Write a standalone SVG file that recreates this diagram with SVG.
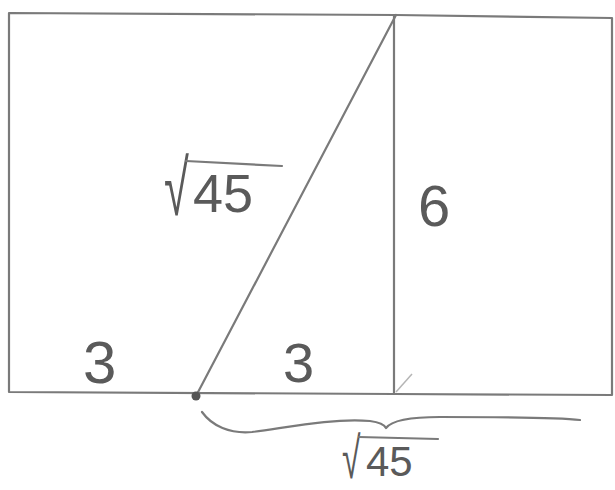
<svg xmlns="http://www.w3.org/2000/svg" width="615" height="490" viewBox="0 0 615 490">
<style>
.ln{stroke:#7a7a7a;stroke-width:2.2;fill:none;stroke-linecap:round;stroke-linejoin:round}
.lbl{font-family:"Liberation Sans",Arial,sans-serif;fill:#5a5a5a}
</style>
<rect width="615" height="490" fill="#ffffff"/>
<g id="frame">
<path class="ln" d="M9,13 L396,15 L612,18 M9,13 L9,392 L394,394 L612,395 M612,18 L612,395"/>
</g>
<g id="connectors">
<line class="ln" x1="394" y1="15" x2="394" y2="394"/>
<line class="ln" x1="396" y1="15" x2="196" y2="396"/>
<circle cx="196" cy="396" r="4.5" fill="#555"/>
<path d="M396,392 L412,374" stroke="#b5b5b5" stroke-width="1.5" fill="none"/>
<path class="ln" d="M202,412 C212,426 230,434 252,432 C285,428 330,418 370,421 C378,422 384,424 386,428 C392,420 410,417 440,417 C500,417 555,417 580,420"/>
</g>
<g id="label-hyp">
<text class="lbl" font-size="78" transform="translate(164,215) scale(0.58,1)">√</text>
<text class="lbl" font-size="54" x="193" y="212">45</text>
<line class="ln" x1="186" y1="161" x2="282" y2="166"/>
</g>
<g id="label-6"><text class="lbl" x="418" y="226" font-size="58">6</text></g>
<g id="label-3a"><text class="lbl" x="83" y="383" font-size="60">3</text></g>
<g id="label-3b"><text class="lbl" x="283" y="382" font-size="56">3</text></g>
<g id="label-brace">
<text class="lbl" font-size="58" transform="translate(342,478) scale(0.58,1)">√</text>
<text class="lbl" font-size="42" x="366" y="476">45</text>
<line class="ln" x1="359" y1="437" x2="438" y2="439"/>
</g>
</svg>
